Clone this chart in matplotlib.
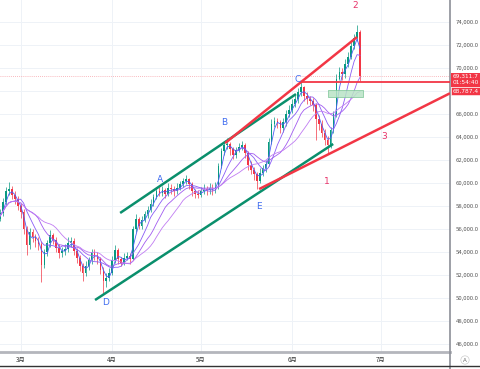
import numpy as np
import pandas as pd
import matplotlib
matplotlib.use("Agg")
import matplotlib.pyplot as plt
from matplotlib.lines import Line2D
from matplotlib.patches import Rectangle

plt.rcParams['font.family'] = ['Noto Sans CJK JP', 'DejaVu Sans']

# daily candles starting 2024-02-22
start = pd.Timestamp("2024-02-22")
closes = [56900, 57400, 58400, 59300, 59500, 59000, 58600, 58000, 57500, 56000,
          54600, 55800, 55300, 55000, 54700, 52900, 54000, 54800, 55500, 55100,
          54400, 53900, 54100, 54300, 54800, 55000, 54100, 53500, 52800, 52200,
          52800, 53300, 54000, 53700, 53400, 52500, 51500, 51800, 52200, 53300,
          54200, 53400, 53100, 53500, 53700, 53400, 56000, 56900, 56300, 56800,
          57300, 57700, 58200, 58800, 59300, 59200, 59400, 59100, 59600, 59500,
          59300, 59600, 59900, 60200, 60400, 59900, 59300, 59100, 59000, 59300,
          59500, 59400, 59600, 59400, 59700, 61500, 62800, 63300, 63400, 63000,
          62500, 62900, 63200, 63300, 62600, 61600, 61200, 60800, 60200, 60900,
          61300, 61700, 63600, 65200, 65400, 65300, 64800, 65300, 66000, 66400,
          66900, 67300, 67900, 68400, 67600, 67300, 67200, 66800, 65600, 65200,
          64400, 63800, 63300, 64600, 66000, 69100, 69700, 69500, 70400, 71000,
          71900, 72600, 73200, 69311.7]
highs = [57200, 57800, 58700, 59700, 60100, 59800, 59300, 58900, 58300, 57800,
         56300, 56100, 56000, 55600, 55300, 55000, 54300, 55100, 55900, 55700,
         55300, 54700, 54500, 54700, 55300, 55300, 55200, 54400, 53800, 53100,
         53200, 53600, 54300, 54300, 54000, 53600, 52700, 52200, 52600, 53700,
         54600, 54400, 53600, 53900, 54000, 53900, 56300, 57300, 57100, 57200,
         57600, 58000, 58600, 59100, 59600, 59700, 59800, 59600, 60000, 59900,
         59800, 60000, 60200, 60500, 60700, 60500, 60100, 59500, 59400, 59700,
         59900, 59800, 60000, 59900, 60100, 61800, 63100, 63600, 63900, 63600,
         63200, 63200, 63500, 63700, 63500, 62800, 61900, 61400, 61000, 61300,
         61600, 62000, 63900, 65600, 65800, 65700, 65500, 65700, 66400, 66800,
         67300, 67700, 68300, 68800, 68500, 67900, 67600, 67400, 67000, 65900,
         65500, 64700, 64100, 64900, 66300, 69500, 70100, 70000, 70800, 71400,
         72300, 73000, 73800, 73300]
lows = [56300, 56700, 57200, 58100, 59000, 58600, 58200, 57700, 57000, 55600,
        53800, 54300, 54900, 54500, 54200, 51400, 52600, 53700, 54500, 54700,
        54000, 53500, 53600, 53800, 54000, 54500, 53800, 53100, 52400, 51500,
        51900, 52500, 53000, 53300, 53000, 52100, 50500, 51000, 51500, 52000,
        53100, 53000, 52800, 52900, 53300, 53000, 53300, 55800, 56000, 56000,
        56600, 57000, 57500, 58000, 58600, 58900, 58900, 58700, 58900, 59100,
        58900, 59100, 59400, 59700, 59900, 59500, 58900, 58700, 58700, 58800,
        59100, 59000, 59100, 59000, 59200, 59500, 61300, 62500, 63000, 62500,
        62100, 62200, 62700, 62900, 62200, 61200, 60800, 60300, 59500, 60000,
        60600, 61000, 61500, 63400, 64900, 64800, 64400, 64500, 65000, 65800,
        66100, 66600, 67000, 67600, 67200, 66900, 66800, 66300, 63800, 64600,
        64000, 63300, 62600, 63100, 64400, 65800, 69000, 69000, 69200, 70100,
        70800, 71700, 72400, 68900]
opens = [56600] + closes[:-1]

ma_windows = [3, 7, 12, 18]
ma_colors = ["#4d5df5", "#8a5cf6", "#a25cf0", "#c07cf2"]

months = ["3月", "4月", "5月", "6月", "7月"]
month_starts = ["2024-03-01", "2024-04-01", "2024-05-01", "2024-06-01", "2024-07-01"]

# drawn lines: (day, price) pairs
green_lines = [[(41.7, 57420), (101.3, 67760)],
               [(33.2, 49850), (113.9, 63420)]]
red_lines = [[(77.3, 63500), (122.0, 72720)],
             [(88.8, 59500), (153.5, 67830)]]
resist = 68787.4
resist_from = 103.4
last_price = 69311.7
last_time = "01:54:40"
zone = (112.3, 124.1, 67480, 68110)

wave_labels = ["A", "B", "C", "D", "E"]
wave_pos = [(55.3, 60300), (77.0, 65330), (101.7, 69070), (36.6, 49600), (88.8, 57940)]
num_labels = ["1", "2", "3"]
num_pos = [(111.8, 60200), (121.3, 75420), (131.1, 64110)]

fig = plt.figure(figsize=(4.8, 3.69), dpi=100)
ax = fig.add_axes([0, 17 / 369, 450 / 480, 352 / 369])

x = np.arange(len(closes))
o = np.array(opens)
c = np.array(closes)
col = np.where(c >= o, "#089981", "#f23645")

ax.vlines(x, lows, highs, colors=col, lw=0.5, zorder=3)
ax.bar(x, np.maximum(np.abs(c - o), 60), bottom=np.minimum(o, c), width=0.55,
       color=col, lw=0, zorder=3)

s = pd.Series(closes)
for w, mc in zip(ma_windows, ma_colors):
    ax.plot(x, s.rolling(w, min_periods=1).mean(), color=mc, lw=0.6, zorder=4)

for ln in green_lines:
    ax.plot([p[0] for p in ln], [p[1] for p in ln], color="#0a8f6c", lw=1.8,
            zorder=5, solid_capstyle="butt")
for ln in red_lines:
    ax.plot([p[0] for p in ln], [p[1] for p in ln], color="#f23645", lw=1.8,
            zorder=5, solid_capstyle="butt")
ax.plot([resist_from, 160], [resist, resist], color="#f23645", lw=1.3, zorder=5)
ax.axhline(last_price, color="#f7a1a8", lw=0.6, ls=(0, (1, 1.5)), zorder=2)
ax.fill_between([zone[0], zone[1]], zone[2], zone[3], color="#b9e3c6",
                edgecolor="#7cc596", lw=0.6, zorder=6, alpha=0.85)

for t, (px, py) in zip(wave_labels, wave_pos):
    ax.text(px, py, t, color="#3f6cf0", fontsize=6.5, ha="center", va="center",
            family=["DejaVu Sans"], zorder=7)
for t, (px, py) in zip(num_labels, num_pos):
    ax.text(px, py, t, color="#e8336a", fontsize=6.5, ha="center", va="center",
            family=["DejaVu Sans"], zorder=7)

ax.set_xlim(0.98, 153.5)
ax.set_ylim(45330, 75940)

# 68,000 sits under the price tags, so it is not shown
yt = np.arange(46000, 74001, 2000)
ax.set_yticks(yt)
ax.set_yticklabels(["" if v == 68000 else f"{v:,.1f}" for v in yt])
ax.yaxis.tick_right()
ax.tick_params(axis="y", length=0, pad=4, labelsize=4.3, labelcolor="#555555")

mx = [(pd.Timestamp(m) - start).days for m in month_starts]
ax.set_xticks(mx)
ax.set_xticklabels(months)
ax.tick_params(axis="x", length=0, pad=3, labelsize=4.5, labelcolor="#333333")

ax.grid(True, color="#eef2f7", lw=0.7, zorder=0)
ax.set_axisbelow(True)
for sp in ["top", "left"]:
    ax.spines[sp].set_visible(False)
ax.spines["right"].set_color("#8c8f97")
ax.spines["right"].set_linewidth(1.2)
ax.spines["bottom"].set_color("#b4b6bc")
ax.spines["bottom"].set_linewidth(2)

# price tags on the right scale (figure pixel coords -> fraction)
def fy(py):
    return 1 - py / 369

fig.add_artist(Rectangle((451 / 480, fy(86.5)), 29 / 480, 14 / 369,
                         fc="#f23645", ec="none"))
fig.add_artist(Rectangle((451 / 480, fy(95)), 29 / 480, 8.5 / 369,
                         fc="#f23645", ec="#ffffff", lw=0.4))
tag_kw = dict(fontsize=4.2, color="white", ha="left", va="center",
              family=["DejaVu Sans"])
fig.text(453 / 480, fy(76.5), f"{last_price:,.1f}", **tag_kw)
fig.text(453 / 480, fy(82.5), last_time, **tag_kw)
fig.text(453 / 480, fy(90.8), f"{resist:,.1f}", **tag_kw)

fig.add_artist(Line2D([450 / 480, 450 / 480], [0, 17 / 369], color="#8c8f97", lw=1.2))
fig.add_artist(Line2D([0, 1], [3 / 369, 3 / 369], color="#333333", lw=1))
fig.text(465 / 480, 9 / 369, "A", fontsize=4, color="#666666", ha="center", va="center",
         family=["DejaVu Sans"],
         bbox=dict(boxstyle="circle,pad=0.3", fc="white", ec="#cccccc", lw=0.5))

fig.savefig("out.png", dpi=100)
